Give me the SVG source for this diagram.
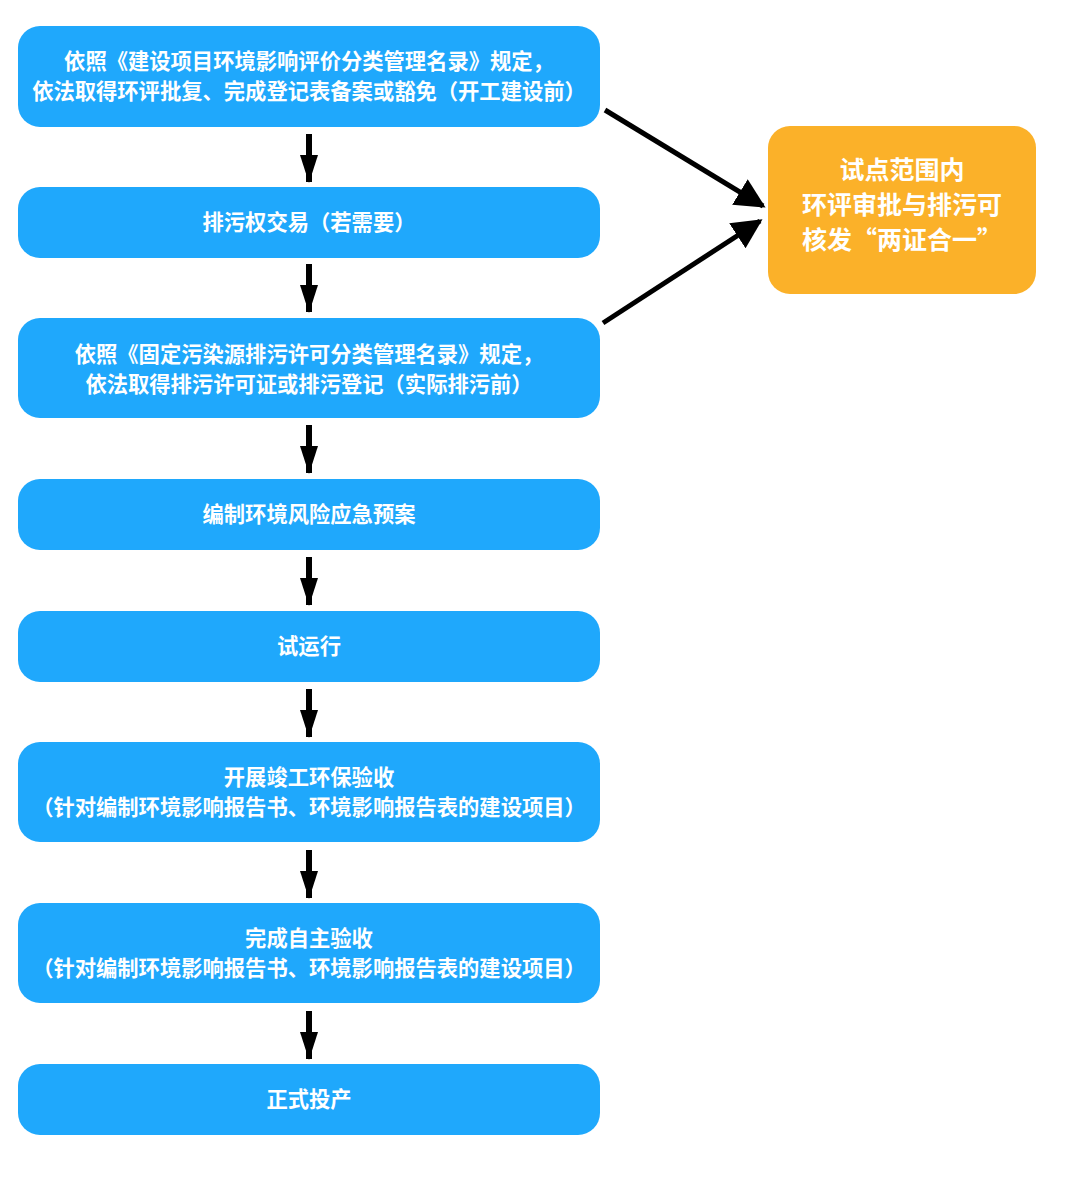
<svg xmlns="http://www.w3.org/2000/svg" width="1080" height="1179" viewBox="0 0 1080 1179">
<defs>
<style>
.b{fill:#1FA8FC}
.o{fill:#FBB129}
.t{fill:#fff;font-family:"Noto Sans CJK SC","Noto Sans",sans-serif;font-weight:bold;font-size:21.3px;text-anchor:middle}
.to{fill:#fff;font-family:"Noto Sans CJK SC","Noto Sans",sans-serif;font-weight:bold;font-size:25px;text-anchor:middle}
.c{stroke:#000;stroke-width:5;fill:none}
.v{stroke:#000;stroke-width:6;fill:none}
</style>
<marker id="ah" viewBox="0 0 10 10" refX="9" refY="5" markerWidth="6" markerHeight="6" markerUnits="strokeWidth" orient="auto">
<path d="M0,0 L10,5 L0,10 z" fill="#000"/>
</marker>
<marker id="av" viewBox="0 0 28 18" refX="27" refY="9" markerWidth="28" markerHeight="18" markerUnits="userSpaceOnUse" orient="auto">
<path d="M0,0 L28,9 L0,18 z" fill="#000"/>
</marker>
</defs>
<g id="n1"><rect class="b" x="18" y="26" width="582" height="101" rx="22"/>
<text class="t" x="309" y="69">依照《建设项目环境影响评价分类管理名录》规定，</text>
<text class="t" x="309" y="99">依法取得环评批复、完成登记表备案或豁免（开工建设前）</text></g>
<g id="n2"><rect class="b" x="18" y="187" width="582" height="71" rx="22"/>
<text class="t" x="309" y="230">排污权交易（若需要）</text></g>
<g id="n3"><rect class="b" x="18" y="318" width="582" height="100" rx="22"/>
<text class="t" x="309" y="362">依照《固定污染源排污许可分类管理名录》规定，</text>
<text class="t" x="309" y="392">依法取得排污许可证或排污登记（实际排污前）</text></g>
<g id="n4"><rect class="b" x="18" y="479" width="582" height="71" rx="22"/>
<text class="t" x="309" y="522">编制环境风险应急预案</text></g>
<g id="n5"><rect class="b" x="18" y="611" width="582" height="71" rx="22"/>
<text class="t" x="309" y="654">试运行</text></g>
<g id="n6"><rect class="b" x="18" y="742" width="582" height="100" rx="22"/>
<text class="t" x="309" y="785">开展竣工环保验收</text>
<text class="t" x="309" y="815">（针对编制环境影响报告书、环境影响报告表的建设项目）</text></g>
<g id="n7"><rect class="b" x="18" y="903" width="582" height="100" rx="22"/>
<text class="t" x="309" y="946">完成自主验收</text>
<text class="t" x="309" y="976">（针对编制环境影响报告书、环境影响报告表的建设项目）</text></g>
<g id="n8"><rect class="b" x="18" y="1064" width="582" height="71" rx="22"/>
<text class="t" x="309" y="1107">正式投产</text></g>
<g id="n9"><rect class="o" x="768" y="126" width="268" height="168" rx="22"/>
<text class="to" x="902" y="179">试点范围内</text>
<text class="to" x="902" y="214">环评审批与排污可</text>
<text class="to" x="902" y="249">核发“两证合一”</text></g>
<g id="connectors">
<line class="v" x1="309" y1="134" x2="309" y2="182" marker-end="url(#av)"/>
<line class="v" x1="309" y1="264" x2="309" y2="312" marker-end="url(#av)"/>
<line class="v" x1="309" y1="425" x2="309" y2="473" marker-end="url(#av)"/>
<line class="v" x1="309" y1="557" x2="309" y2="605" marker-end="url(#av)"/>
<line class="v" x1="309" y1="689" x2="309" y2="737" marker-end="url(#av)"/>
<line class="v" x1="309" y1="850" x2="309" y2="898" marker-end="url(#av)"/>
<line class="v" x1="309" y1="1011" x2="309" y2="1059" marker-end="url(#av)"/>
<line class="c" x1="605" y1="110" x2="763" y2="206" marker-end="url(#ah)"/>
<line class="c" x1="603" y1="323" x2="760" y2="221" marker-end="url(#ah)"/>
</g>
</svg>
